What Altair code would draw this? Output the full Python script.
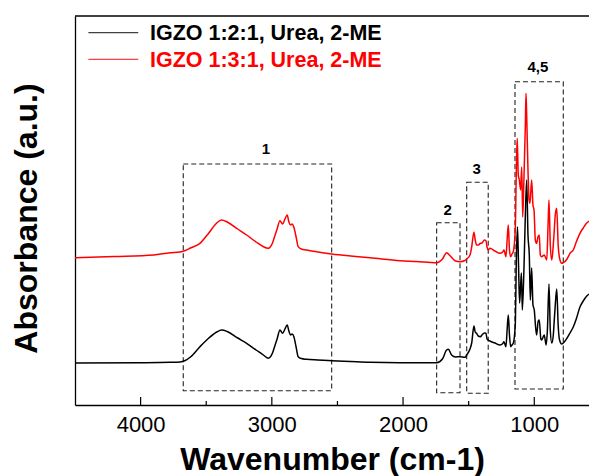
import altair as alt
import pandas as pd

FONT = "Liberation Sans"
S1 = "IGZO 1:2:1, Urea, 2-ME"
S2 = "IGZO 1:3:1, Urea, 2-ME"

# ---- spectra (wavenumber, absorbance a.u.) ----
black_wn = [4500, 4000, 3776, 3700, 3660, 3620, 3548, 3480, 3420, 3383, 3340, 3260, 3192, 3120,
            3060, 3040, 3027, 3012, 2995, 2975, 2960, 2938, 2918, 2900, 2883, 2870, 2857, 2845,
            2832, 2815, 2799, 2775, 2735, 2650, 2544, 2400, 2252, 2022, 1744, 1700, 1668, 1655,
            1630, 1600, 1566, 1528, 1515, 1490, 1477, 1460, 1450, 1440, 1427, 1410, 1399, 1380,
            1368, 1360, 1338, 1300, 1261, 1240, 1231, 1216, 1207, 1198, 1189, 1180, 1170, 1160,
            1145, 1136, 1128, 1120, 1112, 1104, 1098, 1091, 1079, 1070, 1058, 1048, 1038, 1030,
            1020, 1010, 1000, 990, 982, 970, 962, 950, 944, 924, 910, 900, 888, 878, 867, 855,
            850, 840, 829, 818, 809, 791, 779, 750, 728, 703, 680, 652, 627, 600, 583]
black_ab = [42, 42.3, 42.7, 43, 44.5, 48, 58.3, 67, 73, 75, 73.5, 67, 61.7, 55,
            49.5, 47.5, 46.8, 48, 52, 60, 66, 75, 71.7, 76, 80, 74, 70, 71,
            68.3, 58, 48.3, 46.5, 45.7, 45, 44.3, 43.5, 42.7, 42.3, 42.3, 46, 55, 55.7,
            50, 48, 48.3, 47.7, 50, 56, 62, 79, 73, 71.7, 69, 68.3, 70, 72,
            71.7, 66, 64, 62, 60, 61.5, 63.3, 58.3, 75, 90, 70, 58.3, 60, 61.7,
            80, 150, 178, 140, 102, 120, 132, 95, 135, 180, 225, 170, 150, 105,
            137, 100, 95, 78, 70, 84, 85, 66, 65, 70, 60, 75, 121, 75, 62, 70,
            80, 100, 116, 80, 66, 61, 62, 67, 72, 78, 86, 98, 104, 109, 111]

red_wn = [4500, 4200, 3900, 3776, 3700, 3660, 3620, 3548, 3480, 3420, 3383, 3340, 3260, 3192,
          3120, 3060, 3040, 3027, 3012, 2995, 2975, 2960, 2938, 2918, 2900, 2883, 2870, 2857,
          2845, 2832, 2815, 2799, 2775, 2735, 2650, 2544, 2400, 2252, 2022, 1900, 1744, 1700,
          1668, 1640, 1600, 1566, 1528, 1515, 1490, 1477, 1460, 1450, 1440, 1427, 1410, 1399,
          1380, 1368, 1360, 1351, 1338, 1300, 1261, 1240, 1231, 1216, 1207, 1198, 1189, 1180,
          1170, 1160, 1145, 1136, 1130, 1122, 1114, 1104, 1096, 1088, 1079, 1068, 1063, 1058,
          1048, 1040, 1033, 1020, 1010, 1002, 992, 982, 972, 962, 954, 944, 924, 905, 895, 888,
          878, 867, 858, 850, 840, 829, 818, 809, 791, 779, 750, 728, 703, 680, 652, 627, 600, 583]
red_ab = [147.3, 148.5, 150, 152.3, 153, 154.5, 157, 161.7, 172, 182, 185, 183, 176, 170,
          163, 158, 157, 156.7, 158, 162, 170, 176, 184.3, 181, 186, 190, 183, 180,
          181, 177.7, 168, 158.3, 156, 155, 153, 151, 149, 147.3, 144.3, 143.5, 142.3, 146,
          152.3, 149, 144, 143.3, 144.5, 146, 150, 158, 172.7, 165, 160, 160, 161.7, 162,
          165, 164.3, 158, 155, 156.7, 154, 151.7, 153, 155, 148.3, 165, 180, 155, 148.3,
          151, 153.3, 175, 240, 266.7, 230, 225, 215, 238, 188, 225, 280, 311.7, 290,
          235, 205, 201.7, 225, 200, 195, 165, 161.7, 168, 170, 150, 148.3, 150, 145, 180, 205,
          160, 145, 155, 170, 190, 196.7, 160, 148, 141.7, 142.3, 146, 151.7, 155, 163, 171.7,
          177, 182, 184]

# ---- annotation boxes and labels ----
box_labels = ["1", "2", "3", "4,5"]
box_x1 = [3675, 1744, 1515, 1147]
box_x2 = [2544, 1566, 1351, 779]
box_y1 = [14.3, 12.3, 11.7, 16]
box_y2 = [241, 182.3, 222.7, 323.3]
lab_x = [3045, 1660, 1439, 972]
lab_y = [251, 189.7, 230.7, 333]

major_ticks = [4000, 3000, 2000, 1000]
minor_ticks = [3500, 2500, 1500]

# legend entries
leg_names = [S1, S2]
leg_colors = ["black", "red"]
leg_x1 = [4398, 4398]
leg_x2 = [4018, 4018]
leg_y = [372.3, 345.7]
leg_tx = [3929, 3929]
leg_ty = [365, 338.3]

X_DOM = [583, 4500]
Y_DOM = [0, 389]
xs = alt.Scale(domain=X_DOM, reverse=True, nice=False, zero=False)
ys = alt.Scale(domain=Y_DOM, nice=False, zero=False)

spec = pd.DataFrame(
    {"wn": black_wn + red_wn,
     "ab": black_ab + red_ab,
     "series": [S1] * len(black_wn) + [S2] * len(red_wn),
     "order": list(range(len(black_wn))) + list(range(len(red_wn)))}
)

x_axis = alt.Axis(values=major_ticks, format="d", labelFont=FONT, labelFontSize=22,
                  labelColor="black", labelBaseline="alphabetic", labelPadding=26,
                  ticks=False, tickSize=0, grid=False, domainColor="black", domainWidth=1.3,
                  title="Wavenumber (cm-1)", titleFont=FONT, titleFontSize=32,
                  titleFontWeight="bold", titleColor="black", titleBaseline="alphabetic",
                  titleY=64)
y_axis = alt.Axis(labels=False, ticks=False, tickSize=0, grid=False, domainColor="black",
                  domainWidth=1.3, title="Absorbance (a.u.)", titleFont=FONT,
                  titleFontSize=32, titleFontWeight="bold", titleColor="black",
                  titleBaseline="alphabetic", titleX=-38.3, titleY=202, titleAlign="center")


def X(field):
    return alt.X(field, scale=xs, axis=x_axis)


def Y(field):
    return alt.Y(field, scale=ys, axis=y_axis)


lines = alt.Chart(spec).mark_line(strokeWidth=1.5, interpolate="monotone", clip=True).encode(
    x=X("wn:Q"),
    y=Y("ab:Q"),
    color=alt.Color("series:N", scale=alt.Scale(domain=[S1, S2], range=["black", "red"]), legend=None),
    order="order:Q",
)

boxes_df = pd.DataFrame({"x1": box_x1, "x2": box_x2, "y1": box_y1, "y2": box_y2})
boxes = alt.Chart(boxes_df).mark_rect(fill=None, stroke="#222222", strokeWidth=1.1,
                                      strokeDash=[5, 3]).encode(
    x=X("x1:Q"), x2="x2:Q",
    y=Y("y1:Q"), y2="y2:Q",
)

labs_df = pd.DataFrame({"t": box_labels, "x": lab_x, "y": lab_y})
labs = alt.Chart(labs_df).mark_text(font=FONT, fontSize=15, fontWeight="bold", color="black",
                                    align="center", baseline="alphabetic").encode(
    x=X("x:Q"), y=Y("y:Q"), text="t:N")

tick_df = pd.DataFrame({"v": major_ticks + minor_ticks,
                        "len": [8] * len(major_ticks) + [4] * len(minor_ticks),
                        "zero": [0] * (len(major_ticks) + len(minor_ticks))})
ticks = alt.Chart(tick_df).mark_rule(color="black", strokeWidth=1.2).encode(
    x=X("v:Q"),
    y=Y("zero:Q"), y2="len:Q")

top_df = pd.DataFrame({"y": [Y_DOM[1]]})
top = alt.Chart(top_df).mark_rule(color="black", strokeWidth=1.3).encode(
    y=Y("y:Q"))

leg_df = pd.DataFrame({"name": leg_names, "c": leg_colors, "x1": leg_x1, "x2": leg_x2,
                       "y": leg_y, "tx": leg_tx, "ty": leg_ty})
leg_lines = alt.Chart(leg_df).mark_rule(strokeWidth=1.3, opacity=0.75).encode(
    x=X("x1:Q"), x2="x2:Q",
    y=Y("y:Q"),
    color=alt.Color("c:N", scale=None))
leg_text = alt.Chart(leg_df).mark_text(font=FONT, fontSize=21.5, fontWeight="bold",
                                       align="left", baseline="alphabetic").encode(
    x=X("tx:Q"),
    y=Y("ty:Q"),
    text="name:N",
    color=alt.Color("c:N", scale=None))

chart = alt.layer(boxes, labs, lines, ticks, top, leg_lines, leg_text).properties(
    width=514, height=389,
    padding={"left": 75, "top": 16, "right": 0, "bottom": 71},
    autosize=alt.AutoSizeParams(type="none"),
    background="white",
).configure_view(stroke=None)

chart.save("out.html", embed_options={"renderer": "svg", "actions": False})
